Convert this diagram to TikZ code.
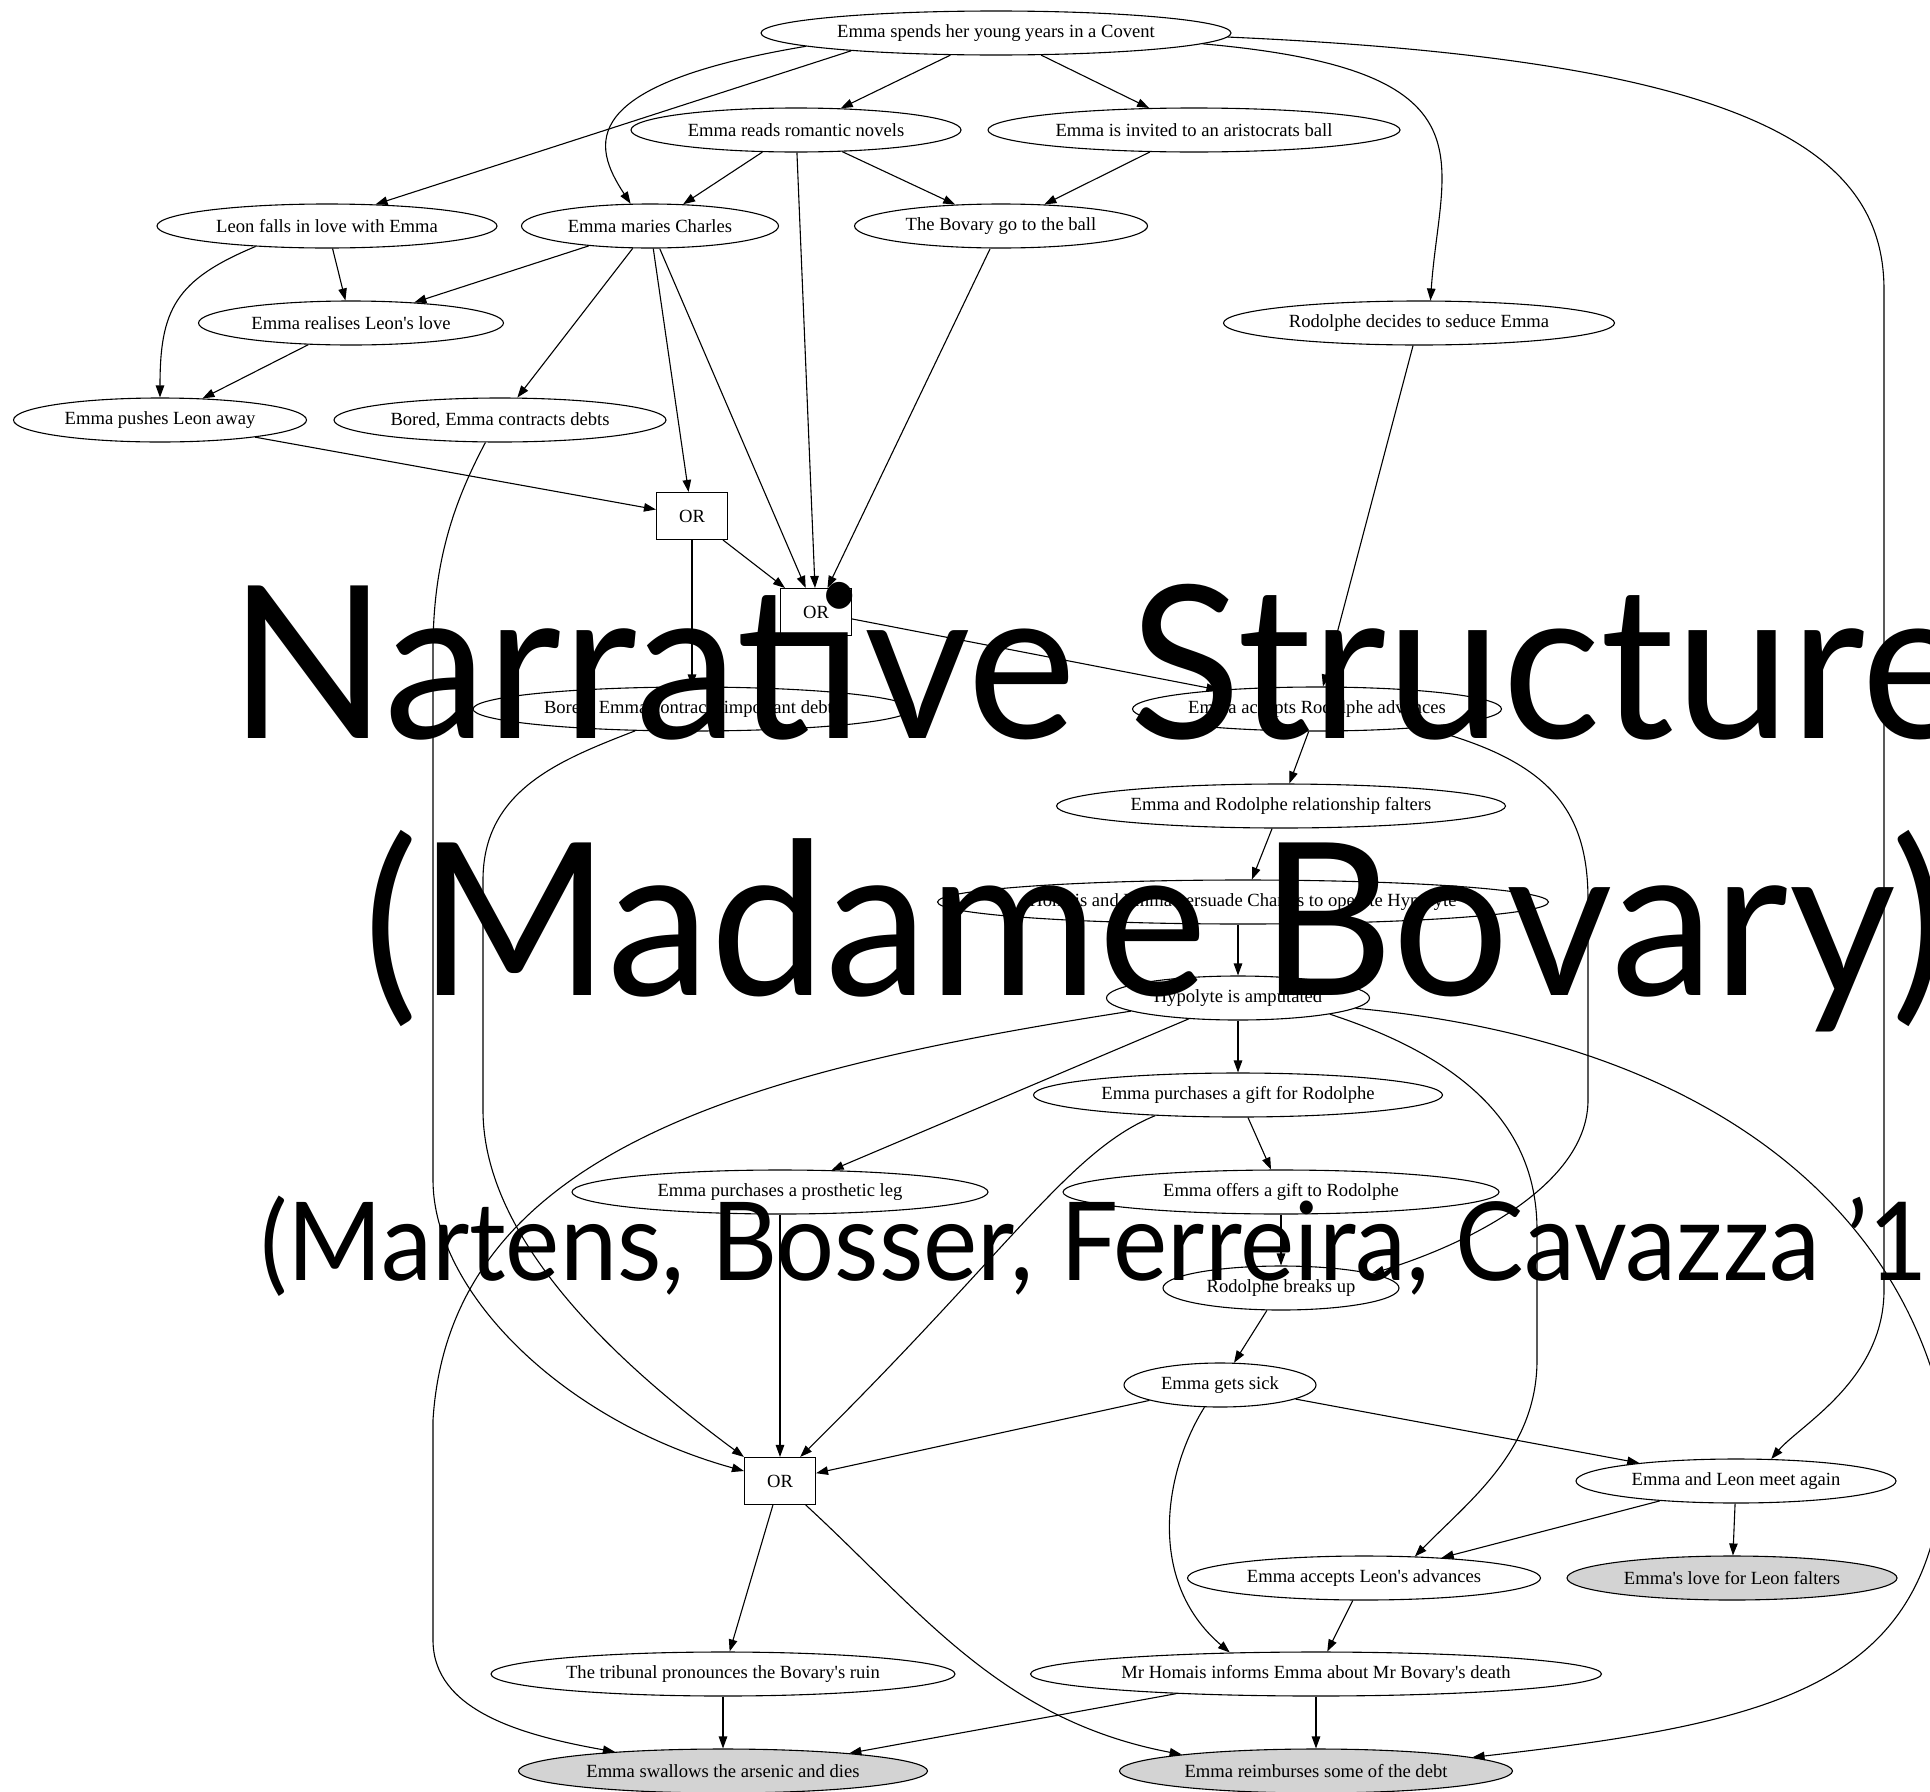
\documentclass[tikz,border=0pt]{standalone}
\usepackage{fontspec}
\setmainfont{Liberation Serif}[Ligatures=TeXOff]
\newfontfamily\titlefont{Lato}
\usetikzlibrary{arrows.meta,shapes.geometric}
\definecolor{endgray}{RGB}{211,211,211}
\begin{document}
\begin{tikzpicture}[x=1pt,y=-1pt,
  ev/.style={draw, ellipse, line width=1.1pt, inner sep=0pt, minimum height=44pt,
             font=\fontsize{18.6}{20}\selectfont},
  final/.style={ev, fill=endgray},
  orbox/.style={draw, rectangle, line width=1.1pt, inner sep=0pt,
             minimum width=71pt, minimum height=47pt, font=\fontsize{18.6}{20}\selectfont},
  arc/.style={line width=1.1pt, -{Triangle[length=12pt,width=8.5pt]}},
  bigtitle/.style={anchor=base west, inner sep=0pt, font=\titlefont\fontsize{213}{213}\selectfont},
  subtitle/.style={anchor=base west, inner sep=0pt, font=\titlefont\fontsize{109}{109}\selectfont},
]
\useasboundingbox (0,0) rectangle (1930,1791);
\fill[white] (0,0) rectangle (1930,1791);
\clip (0,0) rectangle (1930,1791);

% events
\node[ev, minimum width=470pt] (covent) at (996,33) {Emma spends her young years in a Covent};
\node[ev, minimum width=330pt] (novels) at (796,130) {Emma reads romantic novels};
\node[ev, minimum width=412pt] (ballinv) at (1194,130) {Emma is invited to an aristocrats ball};
\node[ev, minimum width=340pt] (leonlove) at (327,226) {Leon falls in love with Emma};
\node[ev, minimum width=257pt] (maries) at (650,226) {Emma maries Charles};
\node[ev, minimum width=293pt] (goball) at (1001,226) {The Bovary go to the ball};
\node[ev, minimum width=305pt] (realises) at (351,323) {Emma realises Leon's love};
\node[ev, minimum width=391pt] (rodseduce) at (1419,323) {Rodolphe decides to seduce Emma};
\node[ev, minimum width=293pt] (pushes) at (160,420) {Emma pushes Leon away};
\node[ev, minimum width=332pt] (debts) at (500,420) {Bored, Emma contracts debts};
\node[orbox] (or1) at (692,516) {OR};
\node[orbox] (or2) at (816,612) {OR};
\node[ev, minimum width=438pt] (impdebts) at (692,709) {Bored, Emma contracts important debts};
\node[ev, minimum width=369pt] (acceptsR) at (1317,709) {Emma accepts Rodolphe advances};
\node[ev, minimum width=449pt] (falters) at (1281,806) {Emma and Rodolphe relationship falters};
\node[ev, minimum width=611pt] (homais) at (1243,902) {Homais and Emma persuade Charles to operate Hypolyte};
\node[ev, minimum width=263pt] (hypolyte) at (1238,998) {Hypolyte is amputated};
\node[ev, minimum width=409pt] (giftbuy) at (1238,1095) {Emma purchases a gift for Rodolphe};
\node[ev, minimum width=416pt] (prosthetic) at (780,1192) {Emma purchases a prosthetic leg};
\node[ev, minimum width=436pt] (giftoffer) at (1281,1192) {Emma offers a gift to Rodolphe};
\node[ev, minimum width=236pt] (breaksup) at (1281,1288) {Rodolphe breaks up};
\node[ev, minimum width=192pt] (sick) at (1220,1385) {Emma gets sick};
\node[orbox] (or3) at (780,1481) {OR};
\node[ev, minimum width=320pt] (leonagain) at (1736,1481) {Emma and Leon meet again};
\node[ev, minimum width=353pt] (acceptsL) at (1364,1578) {Emma accepts Leon's advances};
\node[final, minimum width=330pt] (leonfalters) at (1732,1578) {Emma's love for Leon falters};
\node[ev, minimum width=464pt] (tribunal) at (723,1674) {The tribunal pronounces the Bovary's ruin};
\node[ev, minimum width=571pt] (homaisdeath) at (1316,1674) {Mr Homais informs Emma about Mr Bovary's death};
\node[final, minimum width=409pt] (arsenic) at (723,1771) {Emma swallows the arsenic and dies};
\node[final, minimum width=393pt] (reimburse) at (1316,1771) {Emma reimburses some of the debt};

% causal links
\draw[arc] (covent) -- (novels);
\draw[arc] (covent) -- (ballinv);
\draw[arc] (covent.187) -- (leonlove.24);
\draw[arc] (covent.184) .. controls (575,85) and (592,145) .. (maries.131);
\draw[arc] (covent.357) .. controls (1500,70) and (1440,160) .. (rodseduce.63);
\draw[arc] (covent.359) .. controls (1750,60) and (1884,150) .. (1884,290)
   -- (1884,1290) .. controls (1884,1380) and (1800,1425) .. (leonagain.32);
\draw[arc] (novels) -- (maries);
\draw[arc] (novels) -- (goball);
\draw[arc] (novels) -- (or2);
\draw[arc] (ballinv) -- (goball);
\draw[arc] (leonlove) -- (realises);
\draw[arc] (leonlove.196) .. controls (175,280) and (160,310) .. (pushes);
\draw[arc] (maries) -- (realises);
\draw[arc] (maries) -- (debts);
\draw[arc] (maries) -- (or1);
\draw[arc] (maries) -- (or2);
\draw[arc] (goball) -- (or2);
\draw[arc] (realises) -- (pushes);
\draw[arc] (rodseduce) -- (acceptsR);
\draw[arc] (pushes) -- (or1);
\draw[arc] (debts.237) .. controls (455,500) and (433,560) .. (433,650)
   -- (433,1180) .. controls (433,1290) and (560,1420) .. (or3);
\draw[arc] (or1) -- (impdebts);
\draw[arc] (or1) -- (or2);
\draw[arc] (or2) -- (acceptsR);
\draw[arc] (impdebts.201) .. controls (560,760) and (483,790) .. (483,880)
   -- (483,1110) .. controls (483,1250) and (640,1380) .. (or3.north west);
\draw[arc] (acceptsR) -- (falters);
\draw[arc] (acceptsR.350) .. controls (1550,760) and (1588,810) .. (1588,900)
   -- (1588,1100) .. controls (1588,1180) and (1480,1240) .. (breaksup.9);
\draw[arc] (falters) -- (homais);
\draw[arc] (homais.south -| hypolyte) -- (hypolyte);
\draw[arc] (hypolyte) -- (giftbuy);
\draw[arc] (hypolyte) -- (prosthetic);
\draw[arc] (hypolyte.187) .. controls (750,1070) and (450,1150) .. (433,1420)
   -- (433,1640) .. controls (433,1710) and (520,1735) .. (arsenic);
\draw[arc] (hypolyte.350) .. controls (1470,1060) and (1537,1130) .. (1537,1230)
   -- (1537,1360) .. controls (1537,1450) and (1470,1500) .. (acceptsL.23);
\draw[arc] (hypolyte.355) .. controls (1700,1040) and (1900,1200) .. (1945,1420)
   .. controls (1950,1680) and (1800,1720) .. (reimburse.5);
\draw[arc] (giftbuy) -- (giftoffer);
\draw[arc] (giftbuy.194) .. controls (1070,1150) and (1010,1250) .. (or3.50);
\draw[arc] (prosthetic) -- (or3);
\draw[arc] (giftoffer) -- (breaksup);
\draw[arc] (breaksup) -- (sick);
\draw[arc] (sick) -- (or3);
\draw[arc] (sick) -- (leonagain);
\draw[arc] (sick.235) .. controls (1165,1470) and (1145,1580) .. (homaisdeath.166);
\draw[arc] (leonagain) -- (acceptsL);
\draw[arc] (leonagain) -- (leonfalters);
\draw[arc] (acceptsL) -- (homaisdeath);
\draw[arc] (or3) -- (tribunal);
\draw[arc] (or3.317) .. controls (920,1610) and (1000,1720) .. (reimburse.173);
\draw[arc] (tribunal) -- (arsenic);
\draw[arc] (homaisdeath.188) -- (arsenic.8);
\draw[arc] (homaisdeath) -- (reimburse);

% slide title over the graph
\node[bigtitle, xscale=0.97] (title) at (229,738) {Narrative Structure};
\node[bigtitle, xscale=0.97] (work) at (363,995) {(Madame Bovary)};
\node[subtitle, xscale=0.94] (authors) at (260,1280) {(Martens, Bosser, Ferreira, Cavazza ’1};
\end{tikzpicture}
\end{document}
